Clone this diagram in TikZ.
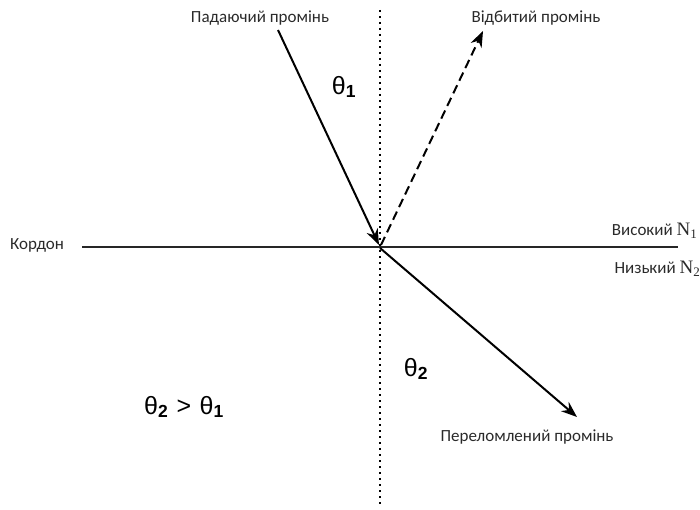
\documentclass[tikz,border=0pt]{standalone}
\usepackage{fontspec}
\setmainfont{Carlito}
\newfontfamily\thetafont{Liberation Sans}
\newfontfamily\nfont{Liberation Serif}
\usetikzlibrary{arrows.meta}
\definecolor{txt}{HTML}{2A2A2A}
\newcommand{\NN}[1]{{\nfont\fontsize{19}{20}\selectfont N\raisebox{-2.5pt}{\fontsize{13}{14}\selectfont #1}}}
\begin{document}
\begin{tikzpicture}[x=1pt,y=-1pt,
  lbl/.style={font=\fontsize{17}{20}\selectfont, text=txt, inner sep=0pt},
  ang/.style={font=\thetafont\fontsize{25}{28}\selectfont, inner sep=0pt},
  ray/.style={line width=2pt, -{Stealth[length=16pt,width=12pt]}}]
\useasboundingbox (0,0) rectangle (700,510);
% points
\coordinate (vt) at (380,10);
\coordinate (vb) at (380,506);
\coordinate (hl) at (82,247);
\coordinate (hr) at (678,247);
\coordinate (inS) at (278,30);
\coordinate (inE) at (379,245);
\coordinate (reS) at (381,245);
\coordinate (reE) at (483,31);
\coordinate (rfS) at (380,248);
\coordinate (rfE) at (577,417);
% lines
\draw[line width=2.4pt, dash pattern=on 2pt off 4pt] (vt) -- (vb);
\draw[line width=2.4pt, black!85] (hl) -- (hr);
\draw[ray] (inS) -- (inE);
\draw[ray, dash pattern=on 9pt off 5pt] (reS) -- (reE);
\draw[ray] (rfS) -- (rfE);
% labels
\node[lbl] (lin) at (260,18) {Падаючий промінь};
\node[lbl] (lre) at (536,18) {Відбитий промінь};
\node[lbl] (lrf) at (527,437) {Переломлений промінь};
\node[lbl] (lk) at (37,245) {Кордон};
\node[lbl, anchor=east] (lh) at (697,231) {Високий \NN{1}};
\node[lbl, anchor=east] (ll) at (700,269) {Низький \NN{2}};
\node[ang] (t1) at (344,87) {θ\textsubscript{\bfseries 1}};
\node[ang] (t2) at (416,369) {θ\textsubscript{\bfseries 2}};
\node[ang] (ineq) at (184,407) {θ\textsubscript{\bfseries 2}\,\,>\,\,θ\textsubscript{\bfseries 1}};
\end{tikzpicture}
\end{document}
